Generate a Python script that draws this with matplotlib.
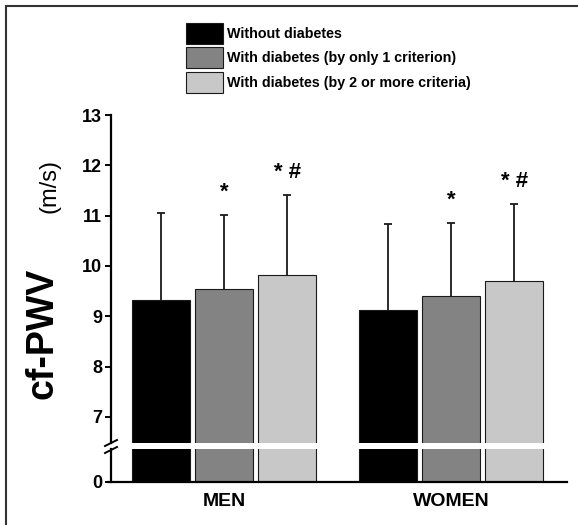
import matplotlib
matplotlib.use("Agg")
import matplotlib.pyplot as plt
from matplotlib.patches import Patch, Rectangle
from matplotlib.lines import Line2D
import numpy as np

plt.rcParams['font.family'] = ['Liberation Sans', 'DejaVu Sans']
plt.rcParams['font.weight'] = 'bold'

groups = ['MEN', 'WOMEN']
series = ['Without diabetes', 'With diabetes (by only 1 criterion)',
          'With diabetes (by 2 or more criteria)']
colors = ['#000000', '#838383', '#c8c8c8']
means = [[9.32, 9.13], [9.55, 9.40], [9.83, 9.70]]
upper_sd = [[1.74, 1.71], [1.47, 1.46], [1.58, 1.53]]
marks = [['', ''], ['*', '*'], ['* #', '* #']]
yticks_top = [7, 8, 9, 10, 11, 12, 13]

W, H = 578, 525
fig = plt.figure(figsize=(W / 100, H / 100), dpi=100)

def fx(px):
    return px / W

def fy(py):
    return 1 - py / H

x0, x1 = 111, 567
ax_top = fig.add_axes([fx(x0), fy(443), fx(x1 - x0), fy(115) - fy(443)])
ax_bot = fig.add_axes([fx(x0), fy(482), fx(x1 - x0), fy(449) - fy(482)])

x = np.arange(len(groups))
step, width = 0.279, 0.256
for ax in (ax_top, ax_bot):
    for i in range(len(series)):
        ax.bar(x + (i - 1) * step, means[i], width, color=colors[i],
               edgecolor='#1a1a1a', linewidth=0.8, zorder=2)
    ax.set_xlim(-0.498, 1.511)
    ax.spines['top'].set_visible(False)
    ax.spines['right'].set_visible(False)
    ax.spines['left'].set_linewidth(1.6)
    ax.spines['bottom'].set_linewidth(1.6)
    ax.tick_params(axis='y', length=4.5, width=1.4, labelsize=13, pad=2)

# error bars (upper only) and significance marks
for i in range(len(series)):
    xs = x + (i - 1) * step
    eb = ax_top.errorbar(xs, means[i], yerr=[[0, 0], upper_sd[i]], fmt='none',
                         ecolor='#1a1a1a', elinewidth=1.3, capsize=3.2,
                         capthick=1.3, zorder=1)
    eb[1][0].set_visible(False)
    for j in range(len(groups)):
        if marks[i][j]:
            ax_top.text(xs[j], means[i][j] + upper_sd[i][j] + 0.24,
                        marks[i][j], ha='center', va='bottom', fontsize=16)

ax_top.set_ylim(6.483, 13)
ax_top.set_yticks(yticks_top)
ax_top.spines['bottom'].set_visible(False)
ax_top.set_xticks([])

ax_bot.set_ylim(0, 0.66)
ax_bot.set_yticks([0])
ax_bot.set_xticks(x)
ax_bot.set_xticklabels(groups, fontsize=14)
ax_bot.tick_params(axis='x', length=0, pad=8)
ax_bot.spines['bottom'].set_bounds(-0.51, 1.511)
ax_bot.spines['bottom'].set_clip_on(False)

# axis break marks
for yb in (443, 450):
    fig.add_artist(Line2D([fx(105), fx(117)], [fy(yb + 3), fy(yb - 3)],
                          color='black', linewidth=1.4))

# y label in two sizes
fig.text(fx(42), fy(333), 'cf-PWV', rotation=90, ha='center', va='center',
         fontsize=27)
fig.text(fx(50), fy(186), '(m/s)', rotation=90, ha='center', va='center',
         fontsize=17, fontweight='normal')

handles = [Patch(facecolor=c, edgecolor='#1a1a1a', linewidth=0.8) for c in colors]
fig.legend(handles, series, loc='upper left', bbox_to_anchor=(fx(186), fy(23)),
           frameon=False, fontsize=10.3, handlelength=2.6, handleheight=1.88,
           labelspacing=0.24, handletextpad=0.3, borderpad=0, borderaxespad=0)

# frame around the figure
fig.add_artist(Rectangle((fx(6), fy(540)), fx(600), fy(6) - fy(540),
                         transform=fig.transFigure, fill=False,
                         edgecolor='#333333', linewidth=1.5))

fig.savefig('out.png', dpi=100)
